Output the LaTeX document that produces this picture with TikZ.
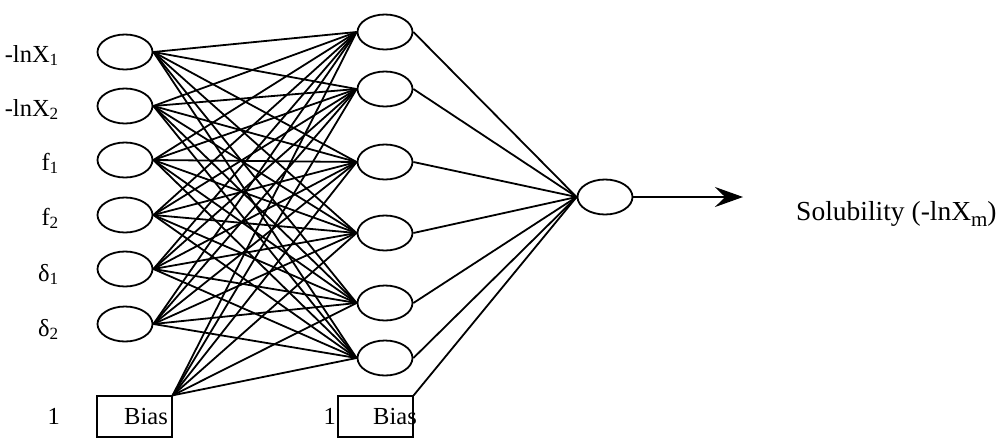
\documentclass[tikz,border=0pt]{standalone}
\usepackage{fontspec}
\setmainfont{Liberation Serif}
\usetikzlibrary{arrows.meta,shapes.geometric}

\begin{document}
\begin{tikzpicture}[x=1pt,y=-1pt,
  neuron/.style={draw, ellipse, line width=1.8pt, minimum width=55pt, minimum height=35pt, inner sep=0pt},
  biasbox/.style={draw, rectangle, line width=1.3pt, minimum width=75pt, minimum height=41pt, inner sep=0pt},
  link/.style={line width=1.8pt},
  lab/.style={inner sep=0pt, font=\fontsize{24.5}{29}\selectfont},
  biglab/.style={inner sep=0pt, font=\fontsize{27.5}{33}\selectfont},
]
\useasboundingbox (0,0) rectangle (1008,445);

% input layer
\foreach \i/\y in {1/52,2/106,3/160,4/215,5/269,6/324}
  \node[neuron] (in\i) at (125,\y) {};
% hidden layer
\foreach \j/\y in {1/32,2/89,3/162,4/233,5/303,6/358}
  \node[neuron] (h\j) at (385,\y) {};
% output neuron
\node[neuron] (out) at (605,197) {};

% bias units
\node[biasbox] (b1) at (134.5,416.5) {};
\node[biasbox] (b2) at (375.5,416.5) {};
\node[lab, anchor=base east] (b1t) at (168,424) {Bias};
\node[lab, anchor=base east] (b2t) at (417,424) {Bias};
\node[lab, anchor=base east] (b1one) at (60,424) {1};
\node[lab, anchor=base east] (b2one) at (336,424) {1};

% input labels
\node[lab, anchor=base east] (l1) at (59,62) {-lnX\textsubscript{1}};
\node[lab, anchor=base east] (l2) at (59,116) {-lnX\textsubscript{2}};
\node[lab, anchor=base east] (l3) at (59,170) {f\textsubscript{1}};
\node[lab, anchor=base east] (l4) at (59,225) {f\textsubscript{2}};
\node[lab, anchor=base east] (l5) at (59,281) {δ\textsubscript{1}};
\node[lab, anchor=base east] (l6) at (59,336) {δ\textsubscript{2}};

% input -> hidden connections
\foreach \i in {1,...,6}
  \foreach \j in {1,...,6}
    \draw[link] (in\i.east) -- (h\j.west);
\foreach \j in {1,...,6}
  \draw[link] (b1.north east) -- (h\j.west);

% hidden -> output connections
\foreach \j in {1,...,6}
  \draw[link] (h\j.east) -- (out.west);
\draw[link] (b2.north east) -- (out.west);

% output arrow and label
\coordinate (tip) at (743,197);
\draw[line width=1.3pt, -{Stealth[length=28pt,width=20pt,inset=10pt]}] (out.east) -- (tip);
\node[biglab, anchor=base west] (sol) at (796,220)
  {Solubility (-lnX\raisebox{-0.22em}{\fontsize{21}{25}\selectfont m})};
\end{tikzpicture}
\end{document}
